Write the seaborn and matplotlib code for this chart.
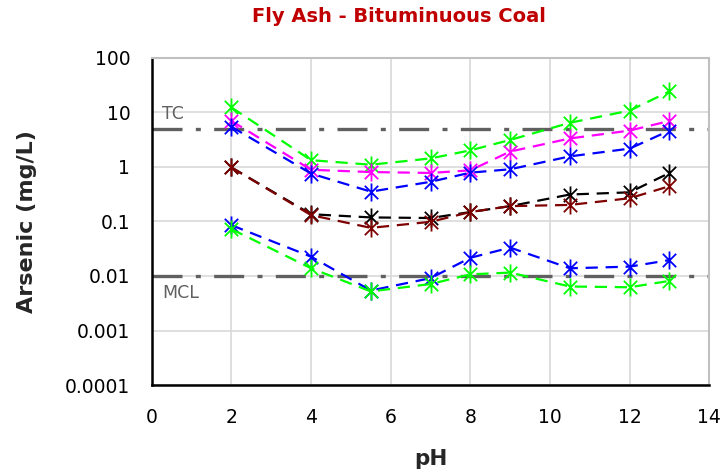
import numpy as np
import pandas as pd
import matplotlib
matplotlib.use("Agg")
import matplotlib.pyplot as plt
from matplotlib.path import Path
from matplotlib.ticker import LogLocator, MultipleLocator, NullFormatter
import seaborn as sns

# pH values of the leaching tests
ph = [2, 4, 5.5, 7, 8, 9, 10.5, 12, 13]

# arsenic concentrations (mg/L) for each coal fly ash sample
green_high = [12.2, 1.32, 1.09, 1.42, 2.0, 3.1, 6.4, 10.7, 24.0]
magenta = [6.9, 0.88, 0.80, 0.77, 0.86, 1.9, 3.3, 4.6, 6.9]
blue_high = [5.4, 0.75, 0.35, 0.53, 0.78, 0.90, 1.55, 2.15, 4.6]
black = [0.97, 0.135, 0.118, 0.115, 0.148, 0.19, 0.31, 0.34, 0.77]
darkred = [0.97, 0.13, 0.076, 0.098, 0.148, 0.19, 0.20, 0.265, 0.44]
blue_low = [0.085, 0.0225, 0.0054, 0.0091, 0.0215, 0.033, 0.0138, 0.0148, 0.0195]
green_low = [0.072, 0.0138, 0.0052, 0.0071, 0.0107, 0.0115, 0.0064, 0.0062, 0.0081]

series = [
    ("green_high", green_high, "#00FF00"),
    ("magenta", magenta, "#FF00FF"),
    ("blue_high", blue_high, "#0000FF"),
    ("black", black, "#000000"),
    ("darkred", darkred, "#7F0000"),
    ("blue_low", blue_low, "#0000FF"),
    ("green_low", green_low, "#00FF00"),
]

# regulatory limits
tc_limit = 5.0
mcl_limit = 0.01

y_ticks = [1e-4, 1e-3, 1e-2, 1e-1, 1, 10, 100]
y_tick_labels = ["0.0001", "0.001", "0.01", "0.1", "1", "10", "100"]
x_ticks = [0, 2, 4, 6, 8, 10, 12, 14]

sns.set_style("white")
plt.rcParams["font.family"] = ["DejaVu Sans"]

# asterisk marker: an X with a vertical stroke
star = Path(
    [(-1, -1), (1, 1), (-1, 1), (1, -1), (0, -1.35), (0, 1.35)],
    [Path.MOVETO, Path.LINETO, Path.MOVETO, Path.LINETO, Path.MOVETO, Path.LINETO],
)

fig = plt.figure(figsize=(7.23, 4.76), dpi=100)
ax = fig.add_axes([0.210, 0.191, 0.771, 0.688])

for name, vals, col in series:
    df = pd.DataFrame({"pH": ph, "As": vals})
    sns.lineplot(
        data=df, x="pH", y="As", ax=ax, color=col, linewidth=1.6,
        linestyle=(0, (5.5, 3.5)), marker=star, markersize=13,
        markeredgewidth=1.3, markeredgecolor=col, markerfacecolor="none",
        zorder=3,
    )

ax.set_yscale("log")
ax.set_xlim(0, 14)
ax.set_ylim(1e-4, 100)

# reference lines
ref_style = dict(color="#606060", linewidth=2.4, linestyle=(0, (9, 4, 1.5, 4)), zorder=2)
ax.axhline(tc_limit, **ref_style)
ax.axhline(mcl_limit, **ref_style)
ax.text(0.25, tc_limit * 1.25, "TC", color="#606060", fontsize=12.5, va="bottom", ha="left")
ax.text(0.25, mcl_limit * 0.72, "MCL", color="#606060", fontsize=12.5, va="top", ha="left")

# ticks
ax.xaxis.set_minor_locator(MultipleLocator(0.5))
ax.yaxis.set_minor_locator(LogLocator(base=10, subs=np.arange(2, 10), numticks=20))
ax.yaxis.set_minor_formatter(NullFormatter())
ax.set_yticks(y_ticks)
ax.set_yticklabels(y_tick_labels)
ax.set_xticks(x_ticks)
ax.set_xticklabels([str(v) for v in x_ticks])

ax.tick_params(axis="both", which="major", direction="inout", length=9, width=1.3,
               colors="black", labelsize=13.5)
ax.tick_params(axis="both", which="minor", direction="in", length=5, width=1.0, colors="black")
ax.tick_params(axis="y", which="major", pad=11)
ax.tick_params(axis="x", which="major", pad=12)
ax.tick_params(top=False, right=False, which="both")

ax.grid(True, which="major", color="#D9D9D9", linewidth=1.2, zorder=0)
ax.set_axisbelow(True)

for side in ["left", "bottom"]:
    ax.spines[side].set_color("black")
    ax.spines[side].set_linewidth(1.8)
for side in ["top", "right"]:
    ax.spines[side].set_color("#C0C0C0")
    ax.spines[side].set_linewidth(1.5)

ax.set_xlabel("pH", fontsize=15.5, fontweight="bold", labelpad=16)
ax.set_ylabel("Arsenic (mg/L)", fontsize=16, fontweight="bold", labelpad=20)
fig.text(0.552, 0.966, "Fly Ash - Bituminuous Coal", color="#C00000",
         fontsize=14, fontweight="bold", ha="center", va="center")

fig.savefig("out.png", dpi=100)
